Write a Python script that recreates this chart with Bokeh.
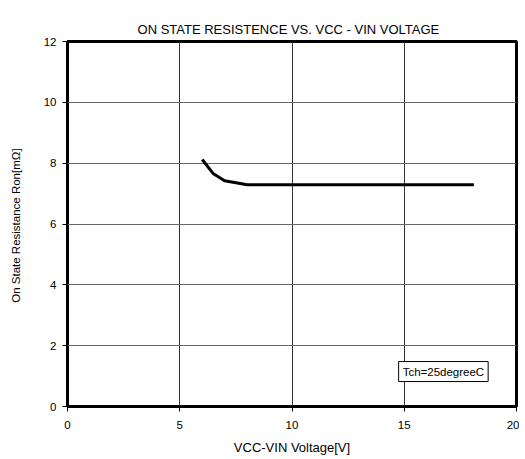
from bokeh.plotting import figure
from bokeh.models import Label, Range1d, FixedTicker, LinearAxis
from bokeh.embed import file_html
from bokeh.resources import INLINE

vcc_vin = [6, 6.5, 7, 8, 9, 10, 12, 14, 16, 17.6, 18.1]
ron = [8.12, 7.65, 7.42, 7.29, 7.29, 7.29, 7.29, 7.29, 7.29, 7.29, 7.29]
x_ticks = [0, 5, 10, 15, 20]
y_ticks = [0, 2, 4, 6, 8, 10, 12]
title_text = "ON STATE RESISTENCE  VS.  VCC - VIN VOLTAGE"

FONT = "Liberation Sans"

p = figure(frame_width=449, frame_height=365, output_backend="svg", toolbar_location=None,
           x_range=Range1d(0, 20), y_range=Range1d(0, 12),
           min_border_left=67, min_border_right=3, min_border_top=41, min_border_bottom=48,
           title=title_text)
p.title.align = "center"
p.title.text_font = FONT
p.title.text_font_size = "13px"
p.title.text_font_style = "normal"
p.title.text_color = "black"
p.title.standoff = 10

xa = p.below[0]
ya = p.left[0]

# invisible spacer axis between title and frame
spacer = LinearAxis(ticker=FixedTicker(ticks=[]), axis_line_color=None,
                    major_tick_line_color=None, minor_tick_line_color=None,
                    major_tick_out=12, major_tick_in=0, minor_tick_out=0, minor_tick_in=0,
                    major_label_standoff=0)
p.add_layout(spacer, "above")

p.line(vcc_vin, ron, line_width=3, line_color="black")

p.outline_line_color = "black"
p.outline_line_width = 3
p.outline_line_alpha = 1

for ax, ticks in ((xa, x_ticks), (ya, y_ticks)):
    ax.ticker = FixedTicker(ticks=ticks)
    ax.axis_line_color = None
    ax.major_tick_out = 5
    ax.major_tick_in = 0
    ax.major_tick_line_color = "black"
    ax.minor_tick_line_color = None
    ax.major_label_text_font = FONT
    ax.major_label_text_font_size = "11.5px"
    ax.major_label_text_color = "black"
    ax.axis_label_text_font = FONT
    ax.axis_label_text_font_style = "normal"
    ax.axis_label_text_color = "black"

xa.axis_label = "VCC-VIN Voltage[V]"
ya.axis_label = "On State Resistance  Ron[mΩ]"
xa.axis_label_text_font_size = "13px"
ya.axis_label_text_font_size = "11.5px"
xa.major_label_standoff = 9
ya.major_label_standoff = 6
xa.axis_label_standoff = 8
ya.axis_label_standoff = 19

p.xgrid.grid_line_color = "#333333"
p.ygrid.grid_line_color = "#666666"
p.xgrid.grid_line_width = 1
p.ygrid.grid_line_width = 1

lab = Label(x=14.75, y=0.82, text="Tch=25degreeC", text_font=FONT, text_font_size="11.5px",
            text_color="black", border_line_color="black", border_line_width=1,
            background_fill_color="white", padding=4)
p.add_layout(lab)

open("out.html", "w").write(file_html(p, INLINE))
